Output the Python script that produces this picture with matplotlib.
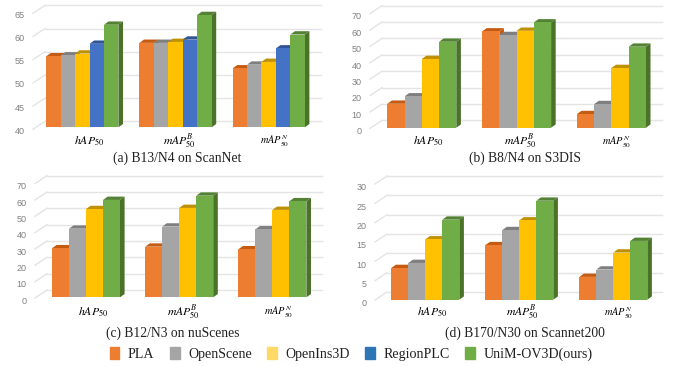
import matplotlib.pyplot as plt
from matplotlib.patches import Patch, Polygon
from matplotlib.transforms import ScaledTranslation

plt.rcParams['font.family'] = ['Liberation Serif', 'DejaVu Serif']
plt.rcParams['mathtext.fontset'] = 'stix'

W, H = 678, 366

metrics = [r'$hAP_{50}$', r'$mAP_{50}^{B}$', r'$mAP_{50}^{N}$']
metric_sizes = [8.5, 8.5, 7.5]
metric_nudge = [1.5, -1.5, 0.5]

names = ['PLA', 'OpenScene', 'OpenIns3D', 'RegionPLC', 'UniM-OV3D(ours)']
front_colors = ['#ED7D31', '#A5A5A5', '#FFC000', '#4472C4', '#70AD47']
top_colors = ['#C55A11', '#7F7F7F', '#BF9000', '#2F5597', '#548235']
side_color = '#4A7229'
legend_colors = ['#ED7D31', '#A5A5A5', '#FFD966', '#2E75B6', '#70AD47']

# values for each method, hAP / mAP base / mAP novel
scannet_pla = [55.3, 58.2, 52.7]
scannet_openscene = [55.5, 58.2, 53.5]
scannet_openins = [55.9, 58.4, 54.1]
scannet_regionplc = [58.0, 58.9, 57.0]
scannet_ours = [62.1, 64.2, 60.0]

s3dis_pla = [14.6, 58.7, 8.3]
s3dis_openscene = [19.1, 56.5, 14.4]
s3dis_openins = [41.9, 59.1, 36.4]
s3dis_ours = [52.4, 64.2, 49.4]

nuscenes_pla = [30.0, 31.0, 29.4]
nuscenes_openscene = [42.0, 43.3, 41.6]
nuscenes_openins = [54.0, 54.7, 53.5]
nuscenes_ours = [59.6, 62.2, 58.8]

sn200_pla = [8.2, 14.1, 5.9]
sn200_openscene = [9.5, 18.0, 7.8]
sn200_openins = [15.6, 20.5, 12.2]
sn200_ours = [20.7, 25.6, 15.2]


def draw_panel(fig, series, ids, yticks, caption, geom):
    # all of geom is in image pixels, y measured from the top
    left, right, top, base, ppu, c0, period, bw, lift, cap_x, cap_y, lab_shift, lab_gap = geom
    ymin = yticks[0]
    ax = fig.add_axes([left / W, 1 - base / H, (right - left) / W, (base - top) / H])
    ax.set_xlim((left - c0) / period, (right - c0) / period)
    ax.set_ylim(ymin, ymin + (base - top) / ppu)
    ax.patch.set_alpha(0)

    px_x = 1 / period
    px_y = 1 / ppu

    # back wall grid lines plus the slanted bit at the left
    x0, x1 = ax.get_xlim()
    for t in yticks:
        back = t + lift * px_y
        ax.plot([x0 + 12 * px_x, x1], [back, back], color='#E4E4E4', lw=1, clip_on=False, zorder=1)
        ax.plot([x0, x0 + 12 * px_x], [back - 8 * px_y, back], color='#E4E4E4', lw=1, clip_on=False, zorder=1)

    n = len(series)
    dx = 4.6 * px_x
    dy = 3.3 * px_y
    z = 2
    for g in range(len(metrics)):
        for k in range(n):
            v = series[k][g]
            c = ids[k]
            xl = g + (k - n / 2) * bw * px_x
            xr = xl + bw * px_x
            ax.add_patch(Polygon([(xl, v), (xr, v), (xr + dx, v + dy), (xl + dx, v + dy)],
                                 fc=top_colors[c], ec='none', zorder=z, clip_on=False))
            ax.add_patch(Polygon([(xr, ymin), (xr + dx, ymin + dy), (xr + dx, v + dy), (xr, v)],
                                 fc=side_color if c == 4 else top_colors[c], ec='none', zorder=z, clip_on=False))
            ax.bar(xl, v - ymin, bottom=ymin, width=bw * px_x, align='edge',
                   color=front_colors[c], zorder=z + 0.5)
            z += 1

    for s in ax.spines.values():
        s.set_visible(False)

    ax.set_yticks(yticks)
    ax.tick_params(axis='y', length=0, pad=6, labelsize=6.5, labelcolor='#808080')
    ytrans = ScaledTranslation(0, -3 / 100, fig.dpi_scale_trans)
    for lab in ax.get_yticklabels():
        lab.set_fontfamily(['Liberation Sans', 'DejaVu Sans'])
        lab.set_transform(lab.get_transform() + ytrans)

    ax.set_xticks(range(len(metrics)))
    ax.set_xticklabels(metrics)
    ax.tick_params(axis='x', length=0, pad=lab_gap * 0.72)
    for lab, size, nudge in zip(ax.get_xticklabels(), metric_sizes, metric_nudge):
        lab.set_fontsize(size)
        lab.set_va('center')
        lab.set_transform(lab.get_transform() +
                          ScaledTranslation((lab_shift + nudge) / 100, 0, fig.dpi_scale_trans))

    fig.text(cap_x / W, 1 - cap_y / H, caption, ha='center', va='center', fontsize=9.8, color='#222222')


fig = plt.figure(figsize=(W / 100, H / 100), dpi=100)

draw_panel(fig, [scannet_pla, scannet_openscene, scannet_openins, scannet_regionplc, scannet_ours],
           [0, 1, 2, 3, 4], [40, 45, 50, 55, 60, 65], '(a) B13/N4 on ScanNet',
           (33, 321, 4, 127.3, 4.64, 82.3, 93.2, 14.44, 6, 177, 158, 5, 14))
draw_panel(fig, [s3dis_pla, s3dis_openscene, s3dis_openins, s3dis_ours],
           [0, 1, 2, 4], [0, 10, 20, 30, 40, 50, 60, 70], '(b) B8/N4 on S3DIS',
           (370, 662, 4, 127.7, 1.64, 421.8, 94.8, 17.25, 7.3, 525, 158, 5, 14))
draw_panel(fig, [nuscenes_pla, nuscenes_openscene, nuscenes_openins, nuscenes_ours],
           [0, 1, 2, 4], [0, 10, 20, 30, 40, 50, 60, 70], '(c) B12/N3 on nuScenes',
           (35, 322, 175, 297.3, 1.634, 86, 93.2, 17, 7.3, 173, 333, 6, 15))
draw_panel(fig, [sn200_pla, sn200_openscene, sn200_openins, sn200_ours],
           [0, 1, 2, 4], [0, 5, 10, 15, 20, 25, 30], '(d) B170/N30 on Scannet200',
           (375, 662, 175, 299.7, 3.867, 425.3, 94, 17, 7.7, 525, 333, 5, 13))

handles = [Patch(color=c, label=n) for c, n in zip(legend_colors, names)]
fig.legend(handles=handles, loc='center', bbox_to_anchor=(351 / W, 1 - 354 / H), ncol=5,
           frameon=False, fontsize=10.1, handlelength=0.7, handleheight=1.0,
           handletextpad=0.6, columnspacing=1.1, labelcolor='#222222')

plt.savefig('out.png', dpi=100)
